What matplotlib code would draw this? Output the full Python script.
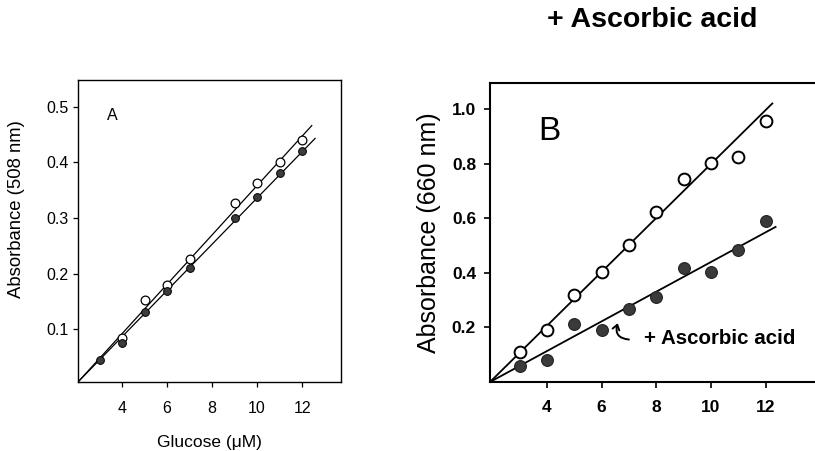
#!/usr/bin/env python3
# -*- coding: utf-8 -*-

import numpy as np
import matplotlib
matplotlib.use("Agg")
import matplotlib.pyplot as plt

plt.rcParams['font.family'] = ['Liberation Sans', 'DejaVu Sans']

# panel A: glucose assay at 508 nm
glucose_a_open = [4, 5, 6, 7, 9, 10, 11, 12]
abs_a_open = [0.085, 0.152, 0.180, 0.227, 0.327, 0.362, 0.400, 0.440]
glucose_a_filled = [3, 4, 5, 6, 7, 9, 10, 11, 12]
abs_a_filled = [0.045, 0.075, 0.130, 0.168, 0.210, 0.300, 0.337, 0.380, 0.420]
# fitted lines (end points)
fit_a_x_open = [2.04, 12.43]
fit_a_y_open = [0.005, 0.466]
fit_a_x_filled = [2.04, 12.58]
fit_a_y_filled = [0.005, 0.443]

# panel B: assay at 660 nm, without / with ascorbic acid
glucose_b = [3, 4, 5, 6, 7, 8, 9, 10, 11, 12]
abs_b_open = [0.109, 0.190, 0.317, 0.403, 0.503, 0.623, 0.742, 0.803, 0.825, 0.957]
abs_b_filled = [0.057, 0.079, 0.211, 0.189, 0.269, 0.311, 0.419, 0.403, 0.483, 0.590]
fit_b_x_open = [1.92, 12.24]
fit_b_y_open = [0.0, 1.02]
fit_b_x_filled = [1.92, 12.36]
fit_b_y_filled = [0.0, 0.568]

fig = plt.figure(figsize=(8.15, 4.51), dpi=100)

# ---- panel A ----
ax_a = fig.add_axes([0.0957, 0.153, 0.3227, 0.6696])
ax_a.plot(fit_a_x_open, fit_a_y_open, color='black', lw=0.9)
ax_a.plot(fit_a_x_filled, fit_a_y_filled, color='black', lw=0.9)
ax_a.plot(glucose_a_open, abs_a_open, 'o', ms=6.3, mfc='white', mec='black', mew=0.9)
ax_a.plot(glucose_a_filled, abs_a_filled, 'o', ms=5.6, mfc='#3c3c3c', mec='black', mew=0.7)
ax_a.set_xlim(2.04, 13.73)
ax_a.set_ylim(0.005, 0.548)
ax_a.set_xticks([4, 6, 8, 10, 12])
ax_a.set_yticks([0.1, 0.2, 0.3, 0.4, 0.5])
ax_a.tick_params(direction='out', length=3.5, width=0.9, labelsize=11.5, color='black')
ax_a.tick_params(axis='x', pad=10)
ax_a.set_xlabel('Glucose (\u03bcM)', fontsize=12.5, labelpad=14)
ax_a.set_ylabel('Absorbance (508 nm)', fontsize=13.3)
ax_a.yaxis.set_label_coords(-0.20, 0.573)
ax_a.text(3.33, 0.484, 'A', fontsize=11.5, va='center', ha='left')
for sp in ax_a.spines.values():
    sp.set_linewidth(1.0)

# ---- panel B ----
ax_b = fig.add_axes([0.6012, 0.153, 0.3988, 0.663])
ax_b.plot(fit_b_x_open, fit_b_y_open, color='black', lw=1.3)
ax_b.plot(fit_b_x_filled, fit_b_y_filled, color='black', lw=1.3)
ax_b.plot(glucose_b, abs_b_open, 'o', ms=8.5, mfc='white', mec='black', mew=1.4)
ax_b.plot(glucose_b, abs_b_filled, 'o', ms=8.5, mfc='#3a3a3a', mec='#222222', mew=0.8)
ax_b.set_xlim(1.92, 13.8)
ax_b.set_ylim(0.0, 1.095)
ax_b.set_xticks([4, 6, 8, 10, 12])
ax_b.set_yticks([0.2, 0.4, 0.6, 0.8, 1.0])
ax_b.set_yticklabels(['0.2', '0.4', '0.6', '0.8', '1.0'])
ax_b.tick_params(direction='out', length=4, width=1.2, labelsize=12.5, pad=6)
ax_b.tick_params(axis='x', pad=9)
for lab in ax_b.get_xticklabels() + ax_b.get_yticklabels():
    lab.set_fontweight('bold')
ax_b.set_ylabel('Absorbance (660 nm)', fontsize=18, labelpad=8)
ax_b.spines['right'].set_visible(False)
for sp in ax_b.spines.values():
    sp.set_linewidth(1.5)
ax_b.text(3.7, 0.916, 'B', fontsize=24, va='center', ha='left')

# small curly arrow and label for the filled series
ax_b.annotate('', xy=(6.62, 0.225), xytext=(7.1, 0.155),
              arrowprops=dict(arrowstyle='->,head_length=0.35,head_width=0.25',
                              color='black', lw=1.4,
                              connectionstyle='arc3,rad=-0.7'))
ax_b.text(7.55, 0.16, '+ Ascorbic acid', fontsize=14.8, fontweight='bold',
          va='center', ha='left')

fig.text(0.80, 0.955, '+ Ascorbic acid', fontsize=20.5, fontweight='bold',
         ha='center', va='center')

fig.savefig('out.png', dpi=100)
